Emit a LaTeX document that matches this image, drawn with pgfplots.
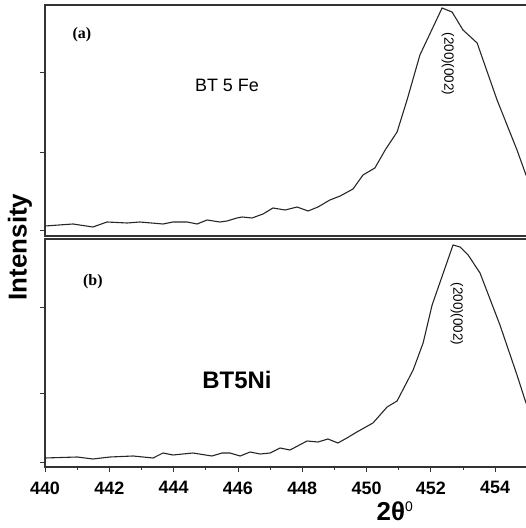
\documentclass[border=0pt]{standalone}
\usepackage{pgfplots}
\pgfplotsset{compat=1.18}
\usepackage{fontspec}
\setmainfont{Liberation Sans}
\newfontfamily\serifbf{Liberation Serif}

\pgfplotstableread{
x v
44.000 11
44.087 13
44.149 10
44.193 15
44.255 14
44.295 15
44.367 13
44.398 15
44.442 15
44.473 13
44.504 17
44.544 15
44.566 16
44.597 19
44.613 20
44.644 19
44.678 23
44.709 29
44.747 27
44.784 30
44.818 26
44.849 30
44.886 37
44.918 41
44.958 48
44.989 62
45.026 69
45.058 87
45.095 105
45.126 137
45.166 182
45.235 229
45.266 225
45.300 207
45.344 194
45.406 137
45.468 87
45.496 62
45.520 50
}\fedata

\pgfplotstableread{
x v
44.000 9
44.100 10
44.149 8
44.202 10
44.274 11
44.336 9
44.367 14
44.398 12
44.460 14
44.519 11
44.551 14
44.575 14
44.607 11
44.638 15
44.669 13
44.700 14
44.731 19
44.762 17
44.815 26
44.849 25
44.880 28
44.911 24
44.939 29
44.970 35
45.020 44
45.064 60
45.095 66
45.145 97
45.176 124
45.204 162
45.269 222
45.291 220
45.316 212
45.353 194
45.415 142
45.468 92
45.496 64
45.520 52
}\nidata

\begin{document}
\begin{tikzpicture}
\pgfplotsset{
  every axis/.append style={
    scale only axis, width=485.5bp, xmin=44.0, xmax=45.51,
    axis line style={line width=1.2pt, black!80},
    tick style={line width=0.8pt, black!80},
    tick align=outside,
    major tick length=5bp, minor tick length=3bp,
    yticklabels={},
    xtick pos=bottom, ytick pos=left,
    clip=true,
  }
}
% bottom panel (b)
\begin{axis}[name=bot, at={(0,0)}, anchor=south west,
  height=228bp, ymin=0, ymax=228,
  xtick={44.0,44.2,44.4,44.6,44.8,45.0,45.2,45.4},
  xticklabels={440,442,444,446,448,450,452,454},
  minor xtick={44.1,44.3,44.5,44.7,44.9,45.1,45.3,45.5},
  ytick={5,74,160},
  /pgf/number format/assume math mode=true,
  xticklabel style={font=\bfseries\fontsize{18}{18}\selectfont, yshift=-6bp},
]
\addplot[line width=1.1pt, black!85] table[x=x,y=v] {\nidata};
\node[font=\serifbf\bfseries\fontsize{16}{16}\selectfont] at (axis cs:44.149,185) {(b)};
\node[font=\bfseries\fontsize{24}{24}\selectfont] at (axis cs:44.597,87) {BT5Ni};
\node[rotate=-90, font=\fontsize{13.5}{13.5}\selectfont] at (axis cs:45.281,153) {(200)(002)};
\end{axis}
% top panel (a)
\begin{axis}[name=top, at={(0,231bp)}, anchor=south west,
  height=231bp, ymin=1, ymax=232,
  xtick=\empty,
  ytick={7,85,165},
]
\addplot[line width=1.1pt, black!85] table[x=x,y=v] {\fedata};
\node[font=\serifbf\bfseries\fontsize{16}{16}\selectfont] at (axis cs:44.115,202) {(a)};
\node[font=\fontsize{18}{18}\selectfont] at (axis cs:44.566,152) {BT 5 Fe};
\node[rotate=-90, font=\fontsize{13.5}{13.5}\selectfont] at (axis cs:45.253,173) {(200)(002)};
\end{axis}
\node[rotate=90, font=\bfseries\fontsize{26}{26}\selectfont] at (-25bp,220bp) {Intensity};
\node[anchor=north, font=\fontsize{26}{26}\selectfont] at (350bp,-31bp) {\textbf{2θ}\textsuperscript{\fontsize{14}{14}\selectfont 0}};
\pgfresetboundingbox
\useasboundingbox (-45bp,-61bp) rectangle (481bp,467bp);
\end{tikzpicture}
\end{document}
